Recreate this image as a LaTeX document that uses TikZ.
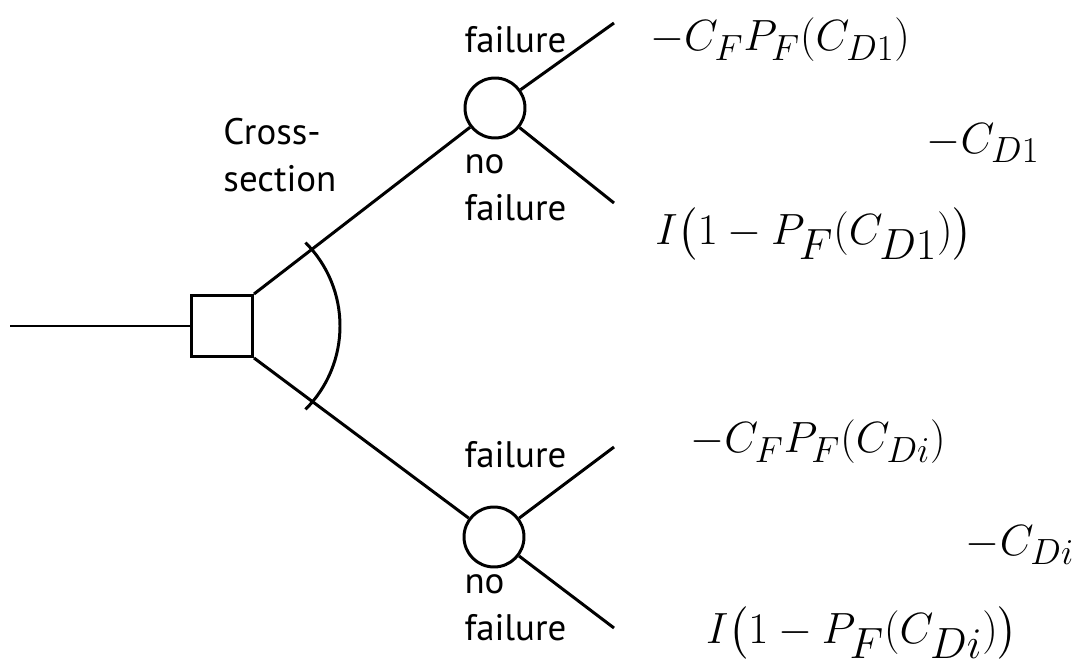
\documentclass[tikz,border=0pt]{standalone}
\usepackage{fontspec}
\setsansfont{PT Sans}
\usepackage{amsmath}

\begin{document}
\begin{tikzpicture}[x=0.02cm,y=-0.02cm,line width=1.7pt,
  decision/.style={draw,rectangle,minimum size=1.22cm,inner sep=0pt},
  chance/.style={draw,circle,minimum size=1.2cm,inner sep=0pt},
  lbl/.style={font=\sffamily\fontsize{21}{27}\selectfont,align=left,inner sep=0pt},
  payoff/.style={font=\fontsize{30}{36}\selectfont,inner sep=0pt},
  bigpayoff/.style={font=\fontsize{33}{40}\selectfont,inner sep=0pt}]
\useasboundingbox (0,0) rectangle (1077,668);

\node[decision] (cs) at (222,326) {};
\node[chance] (c1) at (495,108) {};
\node[chance] (c2) at (494,537) {};
\coordinate (in) at (10,326);
\coordinate (u1) at (614,23);
\coordinate (u2) at (614,203);
\coordinate (l1) at (614,447);
\coordinate (l2) at (614,628);

\draw (in) -- (cs);
\draw (cs.north east) -- (c1);
\draw (cs.south east) -- (c2);
\draw (c1) -- (u1);
\draw (c1) -- (u2);
\draw (c2) -- (l1);
\draw (c2) -- (l2);
\draw (cs.center) ++(-45:118) arc[start angle=-45, end angle=45, radius=118];

\node[lbl, anchor=west] (cross) at (222,155) {Cross-\\section};
\node[lbl, anchor=base west] (f1) at (463,53) {failure};
\node[lbl, anchor=west] (n1) at (463,188) {no\\failure};
\node[lbl, anchor=base west] (f2) at (463,467) {failure};
\node[lbl, anchor=west] (n2) at (463,608) {no\\failure};

\node[payoff] (p1) at (780,40) {$-C_FP_F(C_{D1})$};
\node[payoff] (p2) at (983,143) {$-C_{D1}$};
\node[bigpayoff] (p3) at (814,234) {$I\bigl(1-P_F(C_{D1})\bigr)$};
\node[payoff] (p4) at (818,442) {$-C_FP_F(C_{Di})$};
\node[payoff] (p5) at (1020,545) {$-C_{Di}$};
\node[bigpayoff] (p6) at (862,633) {$I\bigl(1-P_F(C_{Di})\bigr)$};
\end{tikzpicture}
\end{document}
